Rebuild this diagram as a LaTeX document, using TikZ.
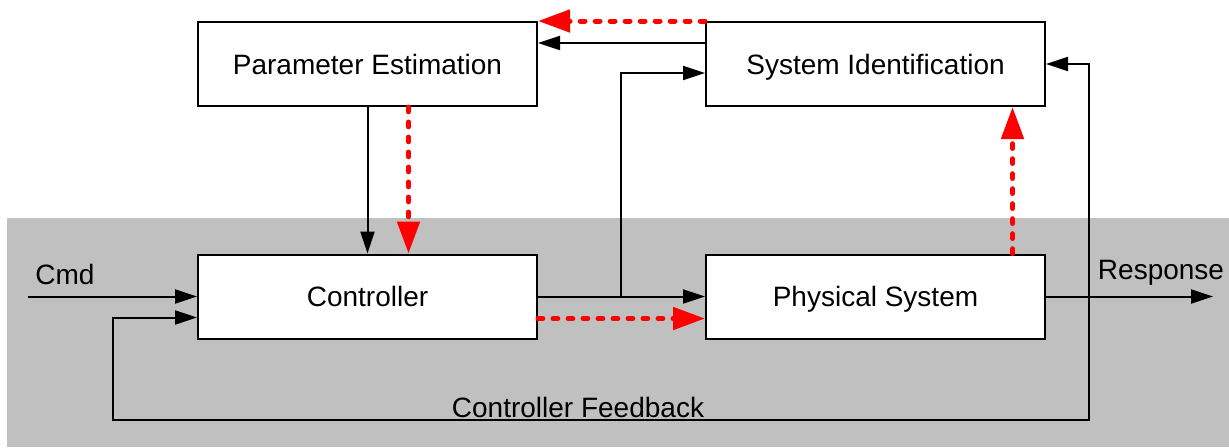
\documentclass[tikz,border=0pt]{standalone}
\usepackage{fontspec}
\setmainfont{Liberation Sans}
\usetikzlibrary{arrows.meta}
\definecolor{plantshade}{RGB}{192,192,192}
\begin{document}
\begin{tikzpicture}[x=0.5pt,y=-0.5pt,
  block/.style={draw=black, fill=white, line width=1pt, minimum width=169.5pt,
    minimum height=42pt, inner sep=0pt, text height=10.2pt, text depth=0pt,
    font=\fontsize{14}{16}\selectfont},
  lbl/.style={inner sep=0pt, font=\fontsize{14}{16}\selectfont},
  sig/.style={draw=black, line width=1pt, -{Triangle[length=11pt,width=7pt]}},
  est/.style={draw=red, line width=2.5pt, line cap=round, dash pattern=on 2.4pt off 5.1pt,
    -{Triangle[length=16pt,width=11pt,fill=red,color=red]}}]
  % canvas and shaded plant region
  \useasboundingbox (0,0) rectangle (1229,447);
  \fill[plantshade] (7,218) rectangle (1229,447);

  % blocks
  \node[block] (param) at (367.5,64) {Parameter Estimation};
  \node[block] (sysid) at (875.5,64) {System Identification};
  \node[block] (ctrl)  at (367.5,296.5) {Controller};
  \node[block] (phys)  at (875.5,296.5) {Physical System};

  % labels
  \node[lbl] (cmd) at (65,274) {Cmd};
  \node[lbl] (resp) at (1161,273) {Response};
  \node[lbl] (fb) at (578,407) {Controller Feedback};

  % helper points
  \coordinate (cmdin) at (28,296.5);
  \coordinate (out) at (1213,296.5);
  \coordinate (tap) at (1089,296.5);
  \coordinate (branch) at (621,296.5);
  \coordinate (fbR) at (1089,420);
  \coordinate (fbL) at (113,420);

  % signal flow
  \draw[sig] (cmdin) -- (ctrl.west);
  \draw[sig] (ctrl.east) -- (phys.west);
  \draw[sig] (phys.east) -- (out);
  \draw[sig] (branch) |- ([yshift=-4.5pt]sysid.west);
  \draw[sig] ([yshift=10.5pt]sysid.west) -- ([yshift=10.5pt]param.east);
  \draw[sig] (param.south) -- (ctrl.north);
  \draw[sig] (tap) |- (sysid.east);
  \draw[sig] (tap) -- (fbR) -- (fbL) |- ([yshift=-10.5pt]ctrl.west);

  % estimation paths
  \draw[est] (sysid.north west) -- (param.north east);
  \draw[est] ([xshift=20.5pt]param.south) -- ([xshift=20.5pt]ctrl.north);
  \draw[est] ([yshift=-11pt]ctrl.east) -- ([yshift=-11pt]phys.west);
  \draw[est] ([xshift=68.5pt]phys.north) -- ([xshift=68.5pt]sysid.south);
\end{tikzpicture}
\end{document}
